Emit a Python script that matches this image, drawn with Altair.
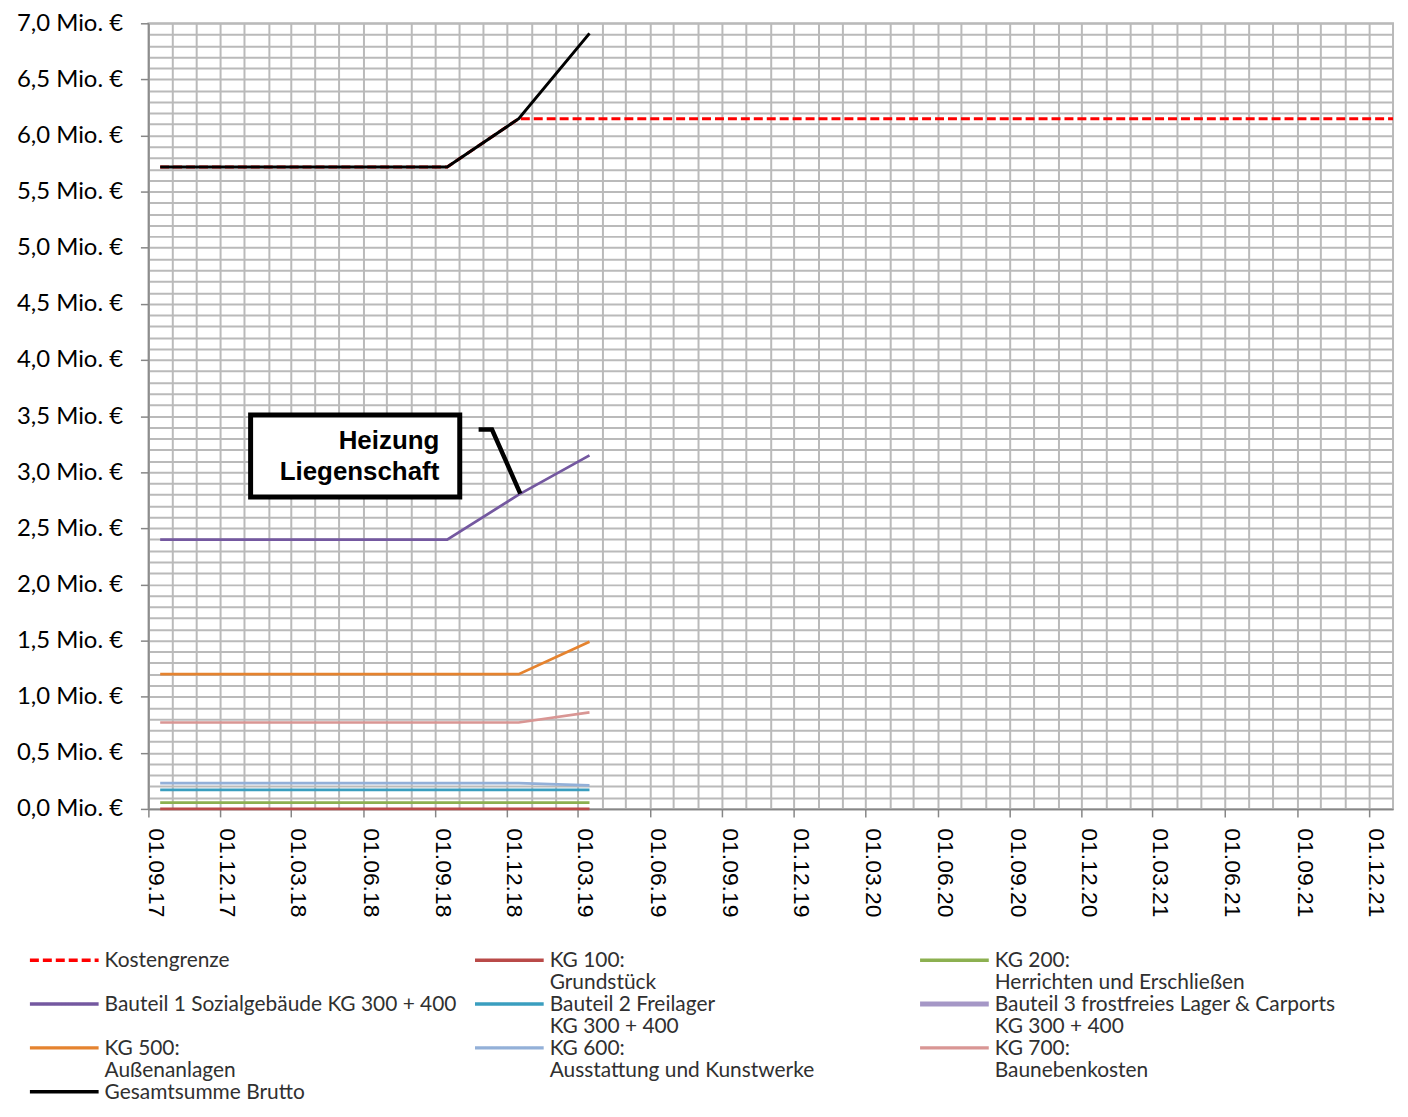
import altair as alt
import pandas as pd

# ---------------- data ----------------
dates = ["2017-09-16T00:00:00", "2018-09-16T00:00:00", "2018-12-16T00:00:00", "2019-03-16T00:00:00"]
kg100 = [0.0, 0.0, 0.0, 0.0]
kg200 = [0.055, 0.055, 0.055, 0.055]
bauteil1 = [2.40, 2.40, 2.80, 3.15]
bauteil2 = [0.17, 0.17, 0.17, 0.17]
kg500 = [1.20, 1.20, 1.20, 1.49]
kg600 = [0.23, 0.23, 0.23, 0.21]
kg700 = [0.77, 0.77, 0.77, 0.86]
gesamt = [5.72, 5.72, 6.15, 6.91]

kosten_dates = ["2017-09-16T00:00:00", "2018-09-16T00:00:00", "2018-12-16T00:00:00", "2022-01-01T00:00:00"]
kosten = [5.72, 5.72, 6.15, 6.15]

series_names = [
    "Kostengrenze",
    "KG 100: Grundstück",
    "KG 200: Herrichten und Erschließen",
    "Bauteil 1 Sozialgebäude KG 300 + 400",
    "Bauteil 2 Freilager KG 300 + 400",
    "Bauteil 3 frostfreies Lager & Carports KG 300 + 400",
    "KG 500: Außenanlagen",
    "KG 600: Ausstattung und Kunstwerke",
    "KG 700: Baunebenkosten",
    "Gesamtsumme Brutto",
]
legend_labels = [
    "Kostengrenze",
    "KG 100:\nGrundstück",
    "KG 200:\nHerrichten und Erschließen",
    "Bauteil 1 Sozialgebäude KG 300 + 400",
    "Bauteil 2 Freilager\nKG 300 + 400",
    "Bauteil 3 frostfreies Lager & Carports\nKG 300 + 400",
    "KG 500:\nAußenanlagen",
    "KG 600:\nAusstattung und Kunstwerke",
    "KG 700:\nBaunebenkosten",
    "Gesamtsumme Brutto",
]
colors = ["#ff0000", "#b94a48", "#8cb050", "#7458a0", "#3a9ebf",
          "#a597c6", "#e5832f", "#93b0d8", "#d99694", "#000000"]

annot_box_x = ["2018-01-09T00:00:00"]
annot_box_x2 = ["2018-10-02T00:00:00"]
annot_box_y = [3.51]
annot_box_y2 = [2.78]
annot_text = ["Heizung", "Liegenschaft"]
annot_text_x = ["2018-09-06T00:00:00", "2018-09-06T00:00:00"]
annot_text_y = [3.28, 3.00]
callout_x = ["2018-10-26T00:00:00", "2018-11-12T00:00:00", "2018-12-18T00:00:00"]
callout_y = [3.38, 3.38, 2.81]

# ---------------- tables ----------------
series_values = {
    series_names[1]: kg100,
    series_names[2]: kg200,
    series_names[3]: bauteil1,
    series_names[4]: bauteil2,
    series_names[6]: kg500,
    series_names[7]: kg600,
    series_names[8]: kg700,
}
rows = []
for name, vals in series_values.items():
    for d, v in zip(dates, vals):
        rows.append({"name": name, "date": d, "value": v})
lines_df = pd.DataFrame(rows)
gesamt_df = pd.DataFrame({"name": series_names[9], "date": dates, "value": gesamt})
kosten_df = pd.DataFrame({"name": series_names[0], "date": kosten_dates, "value": kosten})

box_df = pd.DataFrame({"date": annot_box_x, "date2": annot_box_x2, "value": annot_box_y, "value2": annot_box_y2})
text_df = pd.DataFrame({"date": annot_text_x, "value": annot_text_y, "text": annot_text})
callout_df = pd.DataFrame({"date": callout_x, "value": callout_y, "i": list(range(len(callout_x)))})

# ---------------- axes ----------------
# monthly grid from 01.09.17 to 01.12.21 (right border drawn by the view stroke)
month_ticks = [alt.DateTime(year=2017 + (8 + i) // 12, month=(8 + i) % 12 + 1, date=1) for i in range(52)]
y_grid = [round(i / 10, 1) for i in range(71)]

grid_col = "#bababa"
axis_col = "#868686"

x_enc = alt.X(
    "date:T",
    scale=alt.Scale(domain=[alt.DateTime(year=2017, month=9, date=1), alt.DateTime(year=2022, month=1, date=1)]),
    axis=alt.Axis(
        values=month_ticks,
        labelExpr="month(datum.value) % 3 == 2 ? timeFormat(datum.value, '%d.%m.%y') : ''",
        labelAngle=90, labelAlign="left", labelBaseline="alphabetic",
        labelFont="Liberation Sans", labelFontSize=23, labelColor="black",
        labelPadding=11, labelOverlap=False, labelFlush=False,
        tickSize=8, tickColor=axis_col, tickWidth=1.5,
        tickOpacity={"condition": {"test": "month(datum.value) % 3 == 2", "value": 1}, "value": 0},
        grid=True, gridColor=grid_col, gridWidth=2,
        domainColor=axis_col, domainWidth=1.5, title=None,
    ),
)
y_enc = alt.Y(
    "value:Q",
    scale=alt.Scale(domain=[0, 7], nice=False, zero=True),
    axis=alt.Axis(
        values=y_grid,
        labelExpr="abs(datum.value*2 - round(datum.value*2)) < 0.001 ? replace(format(datum.value, '.1f'), '.', ',') + ' Mio. €' : ''",
        labelFont="Lato", labelFontSize=24, labelColor="black",
        labelPadding=18, labelOverlap=False, labelFlush=False,
        tickSize=8, tickColor=axis_col, tickWidth=1.5,
        tickOpacity={"condition": {"test": "abs(datum.value*2 - round(datum.value*2)) < 0.001", "value": 1}, "value": 0},
        grid=True, gridColor=grid_col, gridWidth=2,
        domainColor=axis_col, domainWidth=1.5, title=None,
    ),
)
color_scale = alt.Scale(domain=series_names, range=colors)

kosten_layer = alt.Chart(kosten_df).mark_line(strokeWidth=3, strokeDash=[9, 4], color="#ff0000").encode(
    x=x_enc, y=y_enc)
lines_layer = alt.Chart(lines_df).mark_line(strokeWidth=2.75).encode(
    x=x_enc, y=y_enc, color=alt.Color("name:N", scale=color_scale, legend=None))
gesamt_layer = alt.Chart(gesamt_df).mark_line(strokeWidth=3).encode(
    x=x_enc, y=y_enc, color=alt.Color("name:N", scale=color_scale, legend=None))
box_layer = alt.Chart(box_df).mark_rect(fill="white", stroke="black", strokeWidth=5).encode(
    x=x_enc, x2="date2:T", y=y_enc, y2="value2:Q")
text_layer = alt.Chart(text_df).mark_text(align="right", baseline="middle", font="Liberation Sans",
                                          fontWeight="bold", fontSize=26, color="black").encode(
    x=x_enc, y=y_enc, text="text:N")
callout_layer = alt.Chart(callout_df).mark_line(strokeWidth=4.5, color="black", strokeCap="butt").encode(
    x=x_enc, y=y_enc, order="i:Q")

main = alt.layer(kosten_layer, lines_layer, gesamt_layer, box_layer, text_layer, callout_layer).properties(
    width=1250, height=789,
    view=alt.ViewBackground(stroke=grid_col, strokeWidth=2),
)

# ---------------- legend ----------------
leg_df = pd.DataFrame({
    "name": series_names,
    "label": legend_labels,
    "col": [i % 3 for i in range(len(series_names))],
    "row": [i // 3 for i in range(len(series_names))],
})
leg_x = alt.X("col:Q", scale=alt.Scale(domain=[0, 2], nice=False, zero=False), axis=None)
leg_y = alt.Y("row:Q", scale=alt.Scale(domain=[-0.5, 3.0], nice=False, zero=False, reverse=True), axis=None)

leg_symbols = alt.Chart(leg_df).mark_rule(xOffset=-119, x2Offset=-50).encode(
    x=leg_x, x2="col:Q", y=leg_y,
    color=alt.Color("name:N", scale=color_scale, legend=None),
    strokeWidth=alt.condition(alt.datum.name == series_names[5], alt.value(5), alt.value(3.5)),
    strokeDash=alt.condition(alt.datum.name == series_names[0], alt.value([9, 4]), alt.value([1, 0])),
)
leg_text = alt.Chart(leg_df).mark_text(align="left", baseline="top", dx=-44, dy=-10, font="Lato",
                                       fontSize=21, lineHeight=22, lineBreak="\n", color="#303030").encode(
    x=leg_x, y=leg_y, text="label:N")
legend = alt.layer(leg_symbols, leg_text).properties(width=894, height=154)

chart = alt.vconcat(main, legend, spacing=20).resolve_scale(
    x="independent", y="independent"
).properties(
    padding={"left": 7, "top": 0, "right": 0, "bottom": 0}
).configure_view(stroke=None)

chart.save("out.html", embed_options={"renderer": "svg", "actions": False})
